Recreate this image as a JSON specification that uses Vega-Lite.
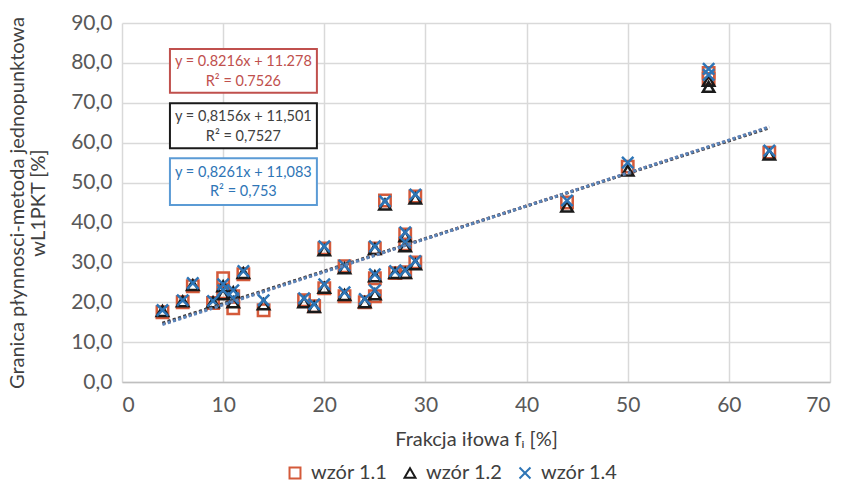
{
  "$schema": "https://vega.github.io/schema/vega-lite/v6.json",
  "width": 708,
  "height": 359,
  "autosize": {"type": "none"},
  "padding": {"left": 122, "top": 23, "right": 19, "bottom": 109},
  "background": "white",
  "config": {
    "font": "Lato",
    "view": {"stroke": null},
    "axis": {
      "labelFont": "Lato",
      "titleFont": "Lato",
      "labelFontSize": 21,
      "titleFontSize": 20,
      "titleFontWeight": "normal",
      "labelColor": "#595959",
      "titleColor": "#404040",
      "gridColor": "#D9D9D9",
      "gridWidth": 1.5,
      "ticks": false,
      "labelOverlap": false
    },
    "legend": {
      "labelFont": "Lato",
      "labelFontSize": 20,
      "labelColor": "#404040"
    }
  },
  "datasets": {
    "one": [{"k": 1}],
    "pts": [
      {"x": 4, "y": 17.5, "s": "wzór 1.1"},
      {"x": 6, "y": 20.0, "s": "wzór 1.1"},
      {"x": 7, "y": 24.0, "s": "wzór 1.1"},
      {"x": 9, "y": 19.8, "s": "wzór 1.1"},
      {"x": 10, "y": 26.0, "s": "wzór 1.1"},
      {"x": 10, "y": 22.5, "s": "wzór 1.1"},
      {"x": 11, "y": 18.5, "s": "wzór 1.1"},
      {"x": 11, "y": 21.5, "s": "wzór 1.1"},
      {"x": 12, "y": 27.0, "s": "wzór 1.1"},
      {"x": 14, "y": 18.0, "s": "wzór 1.1"},
      {"x": 18, "y": 20.5, "s": "wzór 1.1"},
      {"x": 19, "y": 19.0, "s": "wzór 1.1"},
      {"x": 20, "y": 23.5, "s": "wzór 1.1"},
      {"x": 20, "y": 33.5, "s": "wzór 1.1"},
      {"x": 22, "y": 29.0, "s": "wzór 1.1"},
      {"x": 22, "y": 21.5, "s": "wzór 1.1"},
      {"x": 24, "y": 20.0, "s": "wzór 1.1"},
      {"x": 25, "y": 21.5, "s": "wzór 1.1"},
      {"x": 25, "y": 26.0, "s": "wzór 1.1"},
      {"x": 25, "y": 33.5, "s": "wzór 1.1"},
      {"x": 26, "y": 45.5, "s": "wzór 1.1"},
      {"x": 27, "y": 27.3, "s": "wzór 1.1"},
      {"x": 28, "y": 27.5, "s": "wzór 1.1"},
      {"x": 28, "y": 34.5, "s": "wzór 1.1"},
      {"x": 28, "y": 37.0, "s": "wzór 1.1"},
      {"x": 29, "y": 30.0, "s": "wzór 1.1"},
      {"x": 29, "y": 46.5, "s": "wzór 1.1"},
      {"x": 44, "y": 45.0, "s": "wzór 1.1"},
      {"x": 50, "y": 54.0, "s": "wzór 1.1"},
      {"x": 58, "y": 76.0, "s": "wzór 1.1"},
      {"x": 58, "y": 77.5, "s": "wzór 1.1"},
      {"x": 64, "y": 57.5, "s": "wzór 1.1"},
      {"x": 4, "y": 17.8, "s": "wzór 1.2"},
      {"x": 6, "y": 20.2, "s": "wzór 1.2"},
      {"x": 7, "y": 24.3, "s": "wzór 1.2"},
      {"x": 9, "y": 20.0, "s": "wzór 1.2"},
      {"x": 10, "y": 24.0, "s": "wzór 1.2"},
      {"x": 10, "y": 22.0, "s": "wzór 1.2"},
      {"x": 11, "y": 20.0, "s": "wzór 1.2"},
      {"x": 11, "y": 22.5, "s": "wzór 1.2"},
      {"x": 12, "y": 27.3, "s": "wzór 1.2"},
      {"x": 14, "y": 19.5, "s": "wzór 1.2"},
      {"x": 18, "y": 20.0, "s": "wzór 1.2"},
      {"x": 19, "y": 18.8, "s": "wzór 1.2"},
      {"x": 20, "y": 23.6, "s": "wzór 1.2"},
      {"x": 20, "y": 33.0, "s": "wzór 1.2"},
      {"x": 22, "y": 28.5, "s": "wzór 1.2"},
      {"x": 22, "y": 21.8, "s": "wzór 1.2"},
      {"x": 24, "y": 20.0, "s": "wzór 1.2"},
      {"x": 25, "y": 22.0, "s": "wzór 1.2"},
      {"x": 25, "y": 26.5, "s": "wzór 1.2"},
      {"x": 25, "y": 33.3, "s": "wzór 1.2"},
      {"x": 26, "y": 44.5, "s": "wzór 1.2"},
      {"x": 27, "y": 27.3, "s": "wzór 1.2"},
      {"x": 28, "y": 27.3, "s": "wzór 1.2"},
      {"x": 28, "y": 34.0, "s": "wzór 1.2"},
      {"x": 28, "y": 36.5, "s": "wzór 1.2"},
      {"x": 29, "y": 29.5, "s": "wzór 1.2"},
      {"x": 29, "y": 46.0, "s": "wzór 1.2"},
      {"x": 44, "y": 44.0, "s": "wzór 1.2"},
      {"x": 50, "y": 53.0, "s": "wzór 1.2"},
      {"x": 58, "y": 74.0, "s": "wzór 1.2"},
      {"x": 58, "y": 75.5, "s": "wzór 1.2"},
      {"x": 64, "y": 57.0, "s": "wzór 1.2"},
      {"x": 4, "y": 18.0, "s": "wzór 1.4"},
      {"x": 6, "y": 20.5, "s": "wzór 1.4"},
      {"x": 7, "y": 24.8, "s": "wzór 1.4"},
      {"x": 9, "y": 20.3, "s": "wzór 1.4"},
      {"x": 10, "y": 24.5, "s": "wzór 1.4"},
      {"x": 10, "y": 23.0, "s": "wzór 1.4"},
      {"x": 11, "y": 21.0, "s": "wzór 1.4"},
      {"x": 11, "y": 23.0, "s": "wzór 1.4"},
      {"x": 12, "y": 27.8, "s": "wzór 1.4"},
      {"x": 14, "y": 20.5, "s": "wzór 1.4"},
      {"x": 18, "y": 21.0, "s": "wzór 1.4"},
      {"x": 19, "y": 19.5, "s": "wzór 1.4"},
      {"x": 20, "y": 24.5, "s": "wzór 1.4"},
      {"x": 20, "y": 34.0, "s": "wzór 1.4"},
      {"x": 22, "y": 29.2, "s": "wzór 1.4"},
      {"x": 22, "y": 22.5, "s": "wzór 1.4"},
      {"x": 24, "y": 20.8, "s": "wzór 1.4"},
      {"x": 25, "y": 23.0, "s": "wzór 1.4"},
      {"x": 25, "y": 27.0, "s": "wzór 1.4"},
      {"x": 25, "y": 34.0, "s": "wzór 1.4"},
      {"x": 26, "y": 45.3, "s": "wzór 1.4"},
      {"x": 27, "y": 27.8, "s": "wzór 1.4"},
      {"x": 28, "y": 28.0, "s": "wzór 1.4"},
      {"x": 28, "y": 35.0, "s": "wzór 1.4"},
      {"x": 28, "y": 37.5, "s": "wzór 1.4"},
      {"x": 29, "y": 30.3, "s": "wzór 1.4"},
      {"x": 29, "y": 47.0, "s": "wzór 1.4"},
      {"x": 44, "y": 45.5, "s": "wzór 1.4"},
      {"x": 50, "y": 55.0, "s": "wzór 1.4"},
      {"x": 58, "y": 78.5, "s": "wzór 1.4"},
      {"x": 58, "y": 77.0, "s": "wzór 1.4"},
      {"x": 64, "y": 58.0, "s": "wzór 1.4"}
    ],
    "trend": [
      {"x": 4, "y": 14.56, "s": "wzór 1.1"},
      {"x": 64, "y": 63.86, "s": "wzór 1.1"},
      {"x": 4, "y": 14.76, "s": "wzór 1.2"},
      {"x": 64, "y": 63.70, "s": "wzór 1.2"},
      {"x": 4, "y": 14.39, "s": "wzór 1.4"},
      {"x": 64, "y": 63.95, "s": "wzór 1.4"}
    ]
  },
  "layer": [
    {
      "data": {"name": "pts"},
      "mark": {"type": "point", "filled": false, "strokeWidth": 2.5, "size": 130, "opacity": 1},
      "encoding": {
        "x": {
          "field": "x", "type": "quantitative",
          "scale": {"domain": [0, 70], "nice": false},
          "axis": {
            "values": [0, 10, 20, 30, 40, 50, 60, 70],
            "title": "Frakcja iłowa fᵢ [%]",
            "labelPadding": 12,
            "titlePadding": 14,
            "domainColor": "#BFBFBF",
            "domainWidth": 1.5
          }
        },
        "y": {
          "field": "y", "type": "quantitative",
          "scale": {"domain": [0, 90], "nice": false},
          "axis": {
            "values": [0, 10, 20, 30, 40, 50, 60, 70, 80, 90],
            "tickCount": 10,
            "labelExpr": "replace(format(datum.value, '.1f'), '.', ',')",
            "title": ["Granica płynnosci-metoda jednopunktowa", "wL1PKT [%]"],
            "titleLineHeight": 21,
            "labelPadding": 10,
            "titlePadding": 22,
            "domain": false
          }
        },
        "color": {
          "field": "s", "type": "nominal",
          "scale": {"domain": ["wzór 1.1", "wzór 1.2", "wzór 1.4"], "range": ["#D45A3A", "#1A1A1A", "#2E75B6"]},
          "legend": {"orient": "none", "legendX": 163, "legendY": 440, "direction": "horizontal", "title": null, "symbolStrokeWidth": 2, "symbolSize": 120, "columnPadding": 12, "labelOffset": 6}
        },
        "shape": {
          "field": "s", "type": "nominal",
          "scale": {"domain": ["wzór 1.1", "wzór 1.2", "wzór 1.4"], "range": ["square", "triangle-up", "M-1,-1L1,1M-1,1L1,-1"]},
          "legend": {"orient": "none", "legendX": 163, "legendY": 440, "direction": "horizontal", "title": null}
        }
      }
    },
    {
      "data": {"name": "trend"},
      "transform": [{"filter": "datum.s === 'wzór 1.1'"}],
      "mark": {"type": "line", "color": "#C0504D", "strokeWidth": 3, "strokeDash": [3, 2.5]},
      "encoding": {
        "x": {"field": "x", "type": "quantitative", "axis": {"values": [0, 10, 20, 30, 40, 50, 60, 70]}},
        "y": {"field": "y", "type": "quantitative", "axis": {"values": [0, 10, 20, 30, 40, 50, 60, 70, 80, 90], "tickCount": 10}}
      }
    },
    {
      "data": {"name": "trend"},
      "transform": [{"filter": "datum.s === 'wzór 1.2'"}],
      "mark": {"type": "line", "color": "#404040", "strokeWidth": 3, "strokeDash": [3, 2.5]},
      "encoding": {
        "x": {"field": "x", "type": "quantitative", "axis": {"values": [0, 10, 20, 30, 40, 50, 60, 70]}},
        "y": {"field": "y", "type": "quantitative", "axis": {"values": [0, 10, 20, 30, 40, 50, 60, 70, 80, 90], "tickCount": 10}}
      }
    },
    {
      "data": {"name": "trend"},
      "transform": [{"filter": "datum.s === 'wzór 1.4'"}],
      "mark": {"type": "line", "color": "#5B87BD", "strokeWidth": 3, "strokeDash": [3, 2.5]},
      "encoding": {
        "x": {"field": "x", "type": "quantitative", "axis": {"values": [0, 10, 20, 30, 40, 50, 60, 70]}},
        "y": {"field": "y", "type": "quantitative", "axis": {"values": [0, 10, 20, 30, 40, 50, 60, 70, 80, 90], "tickCount": 10}}
      }
    },
    {
      "data": {"name": "one"},
      "mark": {"type": "rect", "fill": "white", "stroke": "#C0504D", "strokeWidth": 2},
      "encoding": {
        "x": {"datum": 4.74, "type": "quantitative", "axis": {"values": [0, 10, 20, 30, 40, 50, 60, 70]}},
        "x2": {"datum": 19.27},
        "y": {"datum": 83.5, "type": "quantitative", "axis": {"values": [0, 10, 20, 30, 40, 50, 60, 70, 80, 90], "tickCount": 10}},
        "y2": {"datum": 72.5}
      }
    },
    {
      "data": {"name": "one"},
      "mark": {"type": "rect", "fill": "white", "stroke": "#1A1A1A", "strokeWidth": 2},
      "encoding": {
        "x": {"datum": 4.74, "type": "quantitative", "axis": {"values": [0, 10, 20, 30, 40, 50, 60, 70]}},
        "x2": {"datum": 19.27},
        "y": {"datum": 69.9, "type": "quantitative", "axis": {"values": [0, 10, 20, 30, 40, 50, 60, 70, 80, 90], "tickCount": 10}},
        "y2": {"datum": 58.6}
      }
    },
    {
      "data": {"name": "one"},
      "mark": {"type": "rect", "fill": "white", "stroke": "#5B9BD5", "strokeWidth": 2},
      "encoding": {
        "x": {"datum": 4.74, "type": "quantitative", "axis": {"values": [0, 10, 20, 30, 40, 50, 60, 70]}},
        "x2": {"datum": 19.27},
        "y": {"datum": 56.1, "type": "quantitative", "axis": {"values": [0, 10, 20, 30, 40, 50, 60, 70, 80, 90], "tickCount": 10}},
        "y2": {"datum": 44.4}
      }
    },
    {
      "data": {"name": "one"},
      "mark": {"type": "text", "color": "#C0504D", "fontSize": 14.5, "font": "Lato"},
      "encoding": {
        "x": {"datum": 12.0, "type": "quantitative", "axis": {"values": [0, 10, 20, 30, 40, 50, 60, 70]}},
        "y": {"datum": 80.2, "type": "quantitative", "axis": {"values": [0, 10, 20, 30, 40, 50, 60, 70, 80, 90], "tickCount": 10}},
        "text": {"value": "y = 0.8216x + 11.278"}
      }
    },
    {
      "data": {"name": "one"},
      "mark": {"type": "text", "color": "#C0504D", "fontSize": 14.5, "font": "Lato"},
      "encoding": {
        "x": {"datum": 12.0, "type": "quantitative", "axis": {"values": [0, 10, 20, 30, 40, 50, 60, 70]}},
        "y": {"datum": 75.2, "type": "quantitative", "axis": {"values": [0, 10, 20, 30, 40, 50, 60, 70, 80, 90], "tickCount": 10}},
        "text": {"value": "R² = 0.7526"}
      }
    },
    {
      "data": {"name": "one"},
      "mark": {"type": "text", "color": "#404040", "fontSize": 14.5, "font": "Lato"},
      "encoding": {
        "x": {"datum": 12.0, "type": "quantitative", "axis": {"values": [0, 10, 20, 30, 40, 50, 60, 70]}},
        "y": {"datum": 66.4, "type": "quantitative", "axis": {"values": [0, 10, 20, 30, 40, 50, 60, 70, 80, 90], "tickCount": 10}},
        "text": {"value": "y = 0,8156x + 11,501"}
      }
    },
    {
      "data": {"name": "one"},
      "mark": {"type": "text", "color": "#404040", "fontSize": 14.5, "font": "Lato"},
      "encoding": {
        "x": {"datum": 12.0, "type": "quantitative", "axis": {"values": [0, 10, 20, 30, 40, 50, 60, 70]}},
        "y": {"datum": 61.4, "type": "quantitative", "axis": {"values": [0, 10, 20, 30, 40, 50, 60, 70, 80, 90], "tickCount": 10}},
        "text": {"value": "R² = 0,7527"}
      }
    },
    {
      "data": {"name": "one"},
      "mark": {"type": "text", "color": "#2E75B6", "fontSize": 14.5, "font": "Lato"},
      "encoding": {
        "x": {"datum": 12.0, "type": "quantitative", "axis": {"values": [0, 10, 20, 30, 40, 50, 60, 70]}},
        "y": {"datum": 52.4, "type": "quantitative", "axis": {"values": [0, 10, 20, 30, 40, 50, 60, 70, 80, 90], "tickCount": 10}},
        "text": {"value": "y = 0,8261x + 11,083"}
      }
    },
    {
      "data": {"name": "one"},
      "mark": {"type": "text", "color": "#2E75B6", "fontSize": 14.5, "font": "Lato"},
      "encoding": {
        "x": {"datum": 12.0, "type": "quantitative", "axis": {"values": [0, 10, 20, 30, 40, 50, 60, 70]}},
        "y": {"datum": 47.6, "type": "quantitative", "axis": {"values": [0, 10, 20, 30, 40, 50, 60, 70, 80, 90], "tickCount": 10}},
        "text": {"value": "R² = 0,753"}
      }
    }
  ]
}
